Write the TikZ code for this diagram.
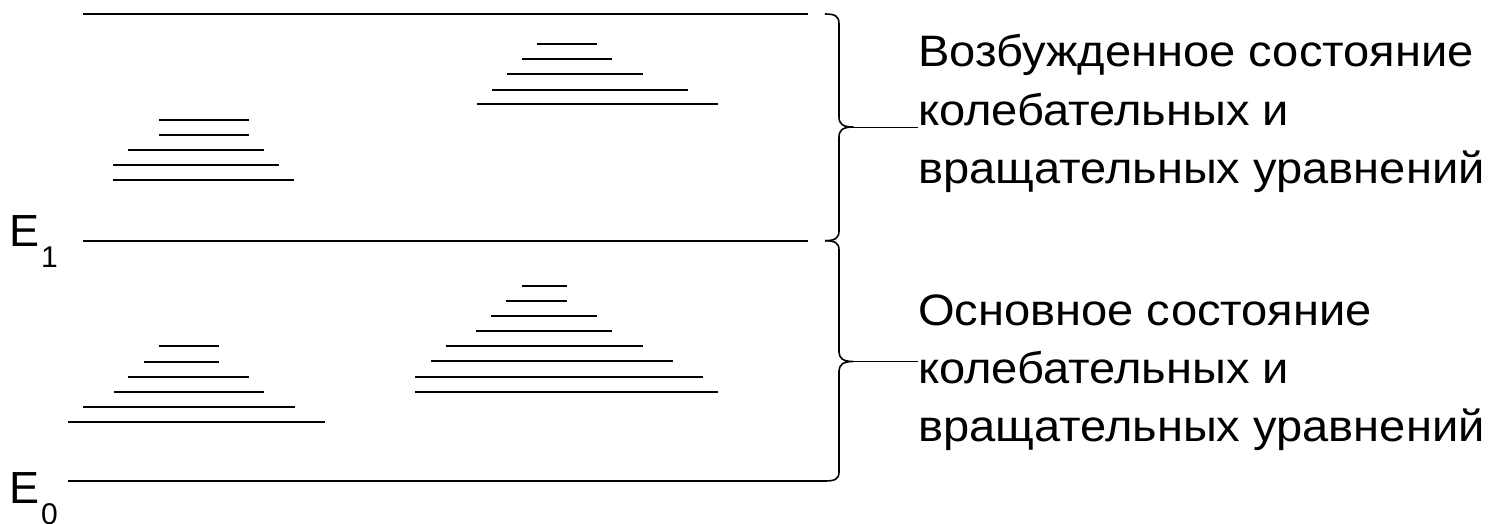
\documentclass[tikz,border=0pt]{standalone}
\usepackage{fontspec}
\setmainfont{Liberation Sans}
\newfontfamily\capfont[FakeStretch=1.07]{Liberation Sans}
\begin{document}
\begin{tikzpicture}[x=1pt,y=-1pt,
  level/.style={line width=2.2pt},
  mainline/.style={line width=2.4pt},
  bracepath/.style={line width=1.6pt,line join=round},
  leader/.style={line width=0.9pt},
  caption/.style={inner sep=0pt,align=left,anchor=base west,
    font=\capfont\fontsize{44}{58.3}\selectfont},
  elabel/.style={inner sep=0pt,anchor=base west,font=\fontsize{45}{45}\selectfont}]
\useasboundingbox (0,0) rectangle (1498,523);

% energy levels E1 and E0 and the upper bound
\draw[mainline] (83,14) -- (808,14);
\draw[mainline] (83,240.7) -- (808,240.7);
\draw[mainline] (68,481) -- (825,481);

\node[elabel] (e1) at (9,246.7) {E\kern2pt\raisebox{-21pt}{\fontsize{30}{30}\selectfont 1}};
\node[elabel] (e0) at (9,503.3) {E\kern2pt\raisebox{-21pt}{\fontsize{30}{30}\selectfont 0}};

% vibrational-rotational sublevels, excited state
\draw[level] (159,120) -- (249,120);
\draw[level] (159,134.7) -- (249,134.7);
\draw[level] (128,150) -- (264,150);
\draw[level] (113,165.3) -- (279,165.3);
\draw[level] (113,180) -- (294,180);

\draw[level] (537,44) -- (597,44);
\draw[level] (522,59.3) -- (612,59.3);
\draw[level] (507,74.3) -- (643,74.3);
\draw[level] (492,89.7) -- (688,89.7);
\draw[level] (477,104.3) -- (718,104.3);

% vibrational-rotational sublevels, ground state
\draw[level] (159,346.3) -- (219,346.3);
\draw[level] (144,361.7) -- (219,361.7);
\draw[level] (128,376.7) -- (249,376.7);
\draw[level] (114,391.7) -- (264,391.7);
\draw[level] (83,407) -- (295,407);
\draw[level] (68,422) -- (325,422);

\draw[level] (522,286) -- (567,286);
\draw[level] (506,301.3) -- (567,301.3);
\draw[level] (491,316.3) -- (597,316.3);
\draw[level] (476,331.3) -- (612,331.3);
\draw[level] (446,346.3) -- (643,346.3);
\draw[level] (431,361.3) -- (673,361.3);
\draw[level] (415,376.7) -- (703,376.7);
\draw[level] (415,391.7) -- (718,391.7);

% braces
\coordinate (tipup) at (853,127);
\coordinate (tipdn) at (853,361.5);
\draw[bracepath] (825,14) .. controls (835,14) and (839,16) .. (839,24)
  -- (839,117) .. controls (839,124) and (843,127) .. (tipup)
  .. controls (843,127) and (839,130) .. (839,137)
  -- (839,231) .. controls (839,238) and (835,240.7) .. (825,240.7);
\draw[bracepath] (825,240.7) .. controls (835,240.7) and (839,243) .. (839,250)
  -- (839,352) .. controls (839,358) and (843,361.5) .. (tipdn)
  .. controls (843,361.5) and (839,365) .. (839,371)
  -- (839,472) .. controls (839,479) and (835,481) .. (825,481);

% captions (anchored at the baseline of the last line)
\node[caption] (txtup) at (918,183.3) {Возбужденное состояние\\колебательных и\\вращательных уравнений};
\node[caption] (txtdn) at (918,441.6) {Основное состояние\\колебательных и\\вращательных уравнений};

\draw[leader] (tipup) -- (tipup -| txtup.west);
\draw[leader] (tipdn) -- (tipdn -| txtdn.west);
\end{tikzpicture}
\end{document}
